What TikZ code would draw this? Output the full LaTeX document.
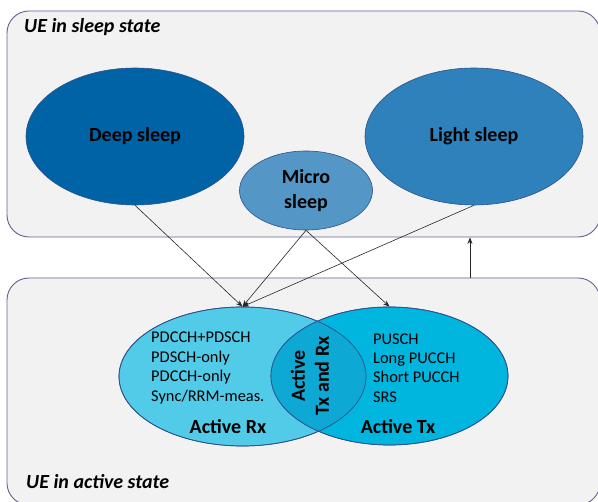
\documentclass[tikz,border=0pt]{standalone}
\usepackage{fontspec}
\setmainfont{Carlito}
\usetikzlibrary{shapes.geometric,arrows.meta}
\definecolor{uegrey}{RGB}{242,242,242}
\definecolor{ueframe}{RGB}{105,95,150}
\definecolor{uedeep}{RGB}{0,99,166}
\definecolor{uelight}{RGB}{46,129,186}
\definecolor{uemicro}{RGB}{84,151,198}
\definecolor{uerx}{RGB}{82,203,232}
\definecolor{uetx}{RGB}{0,182,222}
\definecolor{uelens}{RGB}{14,168,212}
\definecolor{ueedge}{RGB}{45,80,140}

\tikzset{
  statebox/.style={rectangle, rounded corners=22pt, draw=ueframe, line width=0.9pt, fill=uegrey, inner sep=0pt},
  titletext/.style={inner sep=0pt, font=\fontsize{20}{24}\selectfont\bfseries\itshape},
  sleepnode/.style={ellipse, draw=ueedge, line width=0.6pt, inner sep=0pt, align=center, font=\fontsize{20}{25}\selectfont\bfseries},
  activenode/.style={ellipse, draw=ueedge, line width=0.7pt, inner sep=0pt},
  listtext/.style={inner sep=0pt, align=left, font=\fontsize{16.4}{19.4}\selectfont},
  bigtext/.style={inner sep=0pt, align=center, font=\fontsize{20}{24}\selectfont\bfseries},
  arrowline/.style={-{Stealth[length=6.5pt,width=5pt]}, line width=0.6pt, black!85}
}

\begin{document}
\begin{tikzpicture}[x=1pt, y=-1pt]
  \useasboundingbox (0,0) rectangle (598,502);
  \clip (0,0) rectangle (598,502);

  % UE in sleep state
  \node[statebox, minimum width=593pt, minimum height=226pt] (sleepbox) at (303.5,124) {};
  \node[titletext, anchor=west] (sleeptitle) at (24,27) {UE in sleep state};
  \node[sleepnode, fill=uedeep, minimum width=218pt, minimum height=137pt] (deep) at (135,136.5) {Deep sleep};
  \node[sleepnode, fill=uelight, minimum width=218pt, minimum height=137pt] (light) at (474,136.5) {Light sleep};
  \node[sleepnode, fill=uemicro, minimum width=133pt, minimum height=79pt] (micro) at (306,190.5) {Micro\\sleep};

  % UE in active state
  \node[statebox, minimum width=593pt, minimum height=227pt] (activebox) at (303.5,391.5) {};
  \node[titletext, anchor=west] (activetitle) at (26,482) {UE in active state};
  \node[activenode, fill=uerx, minimum width=247pt, minimum height=139pt] (rx) at (242.5,376.5) {};
  \node[activenode, fill=uetx, minimum width=237pt, minimum height=138pt] (tx) at (389.5,376) {};
  \begin{scope}
    \clip (rx.center) ellipse [x radius=123.5pt, y radius=69.5pt];
    \fill[uelens] (tx.center) ellipse [x radius=118.5pt, y radius=69pt];
  \end{scope}
  \draw[ueedge, line width=0.7pt] (rx.center) ellipse [x radius=123.5pt, y radius=69.5pt];
  \draw[ueedge, line width=0.7pt] (tx.center) ellipse [x radius=118.5pt, y radius=69pt];

  \node[listtext, anchor=west] (rxlist) at (151,368) {PDCCH+PDSCH\\PDSCH-only\\PDCCH-only\\Sync/RRM-meas.};
  \node[listtext, anchor=west] (txlist) at (373,368) {PUSCH\\Long PUCCH\\Short PUCCH\\SRS};
  \node[bigtext] (rxlabel) at (228,427) {Active Rx};
  \node[bigtext] (txlabel) at (398,427) {Active Tx};
  \node[bigtext, rotate=90] (bothlabel) at (310,376) {Active\\Tx and Rx};

  % transitions
  \draw[arrowline] (deep.south) -- (rx.north);
  \draw[arrowline] (micro.south) -- (rx.north);
  \draw[arrowline] (light.south) -- (rx.north);
  \draw[arrowline] (micro.south) -- (tx.north);
  \coordinate (upx) at (470,0);
  \draw[arrowline] (upx |- activebox.north) -- (upx |- sleepbox.south);
\end{tikzpicture}
\end{document}
